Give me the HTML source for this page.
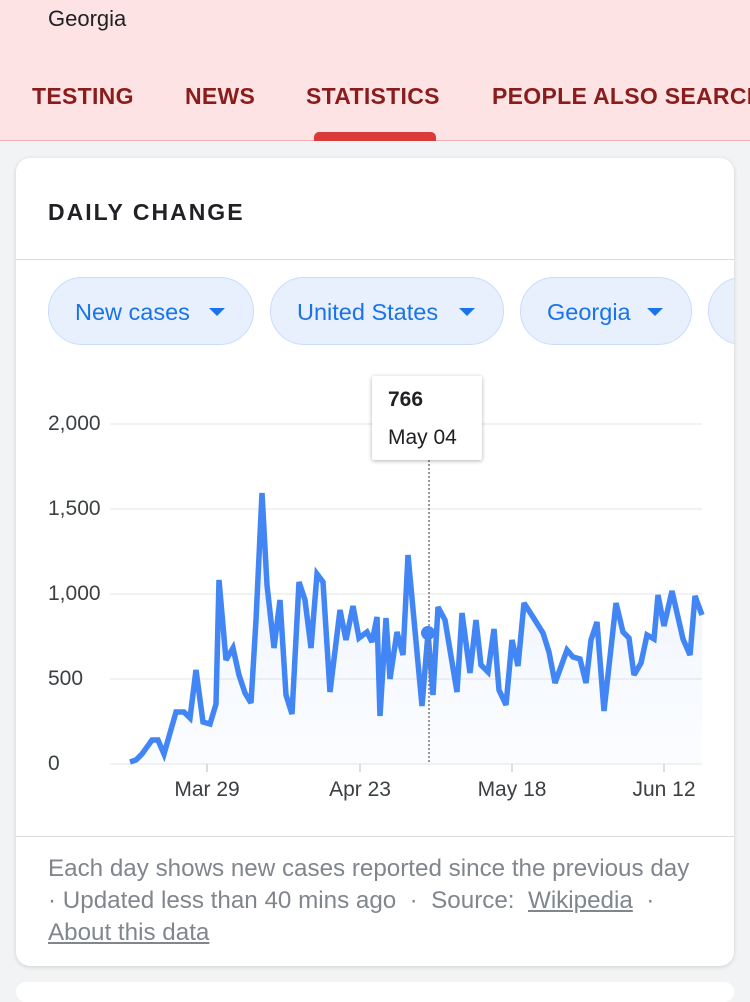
<!DOCTYPE html>
<html><head><meta charset="utf-8"><style>
body{margin:0;width:750px;height:990px;overflow:hidden;background:#f1f3f4;font-family:"Liberation Sans",Arial,sans-serif;position:relative}
.hdr{position:absolute;left:0;top:0;width:750px;height:140px;background:#fde3e3;border-bottom:1px solid #f0b0b0}
.t{position:absolute;font-size:23px;font-weight:bold;color:#8a1c1c;top:83px;letter-spacing:0.3px}
.card{position:absolute;left:16px;top:158px;width:718px;height:808px;background:#fff;border-radius:14px;box-shadow:0 1px 4px rgba(0,0,0,.15);overflow:hidden}
.chip{position:absolute;top:119px;height:68px;border:1.5px solid #c9dcfb;background:#e8f0fe;border-radius:36px;color:#1a73e8;font-size:23.5px;line-height:68px;box-sizing:border-box;padding-left:26px}
.chip:after{content:"";position:absolute;right:28px;top:30px;border-left:8px solid transparent;border-right:8px solid transparent;border-top:8px solid #1a73e8}
.yl{position:absolute;left:32px;font-size:21px;color:#3c4043}
.xl{position:absolute;top:620px;font-size:21px;color:#3c4043;transform:translateX(-50%)}
.ft{position:absolute;left:32px;top:695px;width:700px;font-size:24.2px;line-height:32px;color:#80868b;white-space:nowrap}
.ft u{text-decoration:underline}
</style></head><body>
<div class="hdr">
<div style="position:absolute;left:48px;top:6px;font-size:22px;color:#202124">Georgia</div>
<div class="t" style="left:32px">TESTING</div>
<div class="t" style="left:185px">NEWS</div>
<div class="t" style="left:306px">STATISTICS</div>
<div class="t" style="left:492px;white-space:nowrap">PEOPLE ALSO SEARCH</div>
<div style="position:absolute;left:314px;top:132px;width:122px;height:9px;background:#d93a3a;border-radius:5px 5px 0 0"></div>
</div>
<div class="card">
<div style="position:absolute;left:32px;top:41px;font-size:23px;font-weight:bold;letter-spacing:2px;color:#202124">DAILY CHANGE</div>
<div style="position:absolute;left:0;top:101px;width:718px;height:1px;background:#dadce0"></div>
<div class="chip" style="left:32px;width:206px">New cases</div>
<div class="chip" style="left:254px;width:234px">United States</div>
<div class="chip" style="left:504px;width:172px">Georgia</div>
<div class="chip" style="left:692px;width:80px"></div>
<div class="yl" style="top:254px">2,000</div>
<div class="yl" style="top:339px">1,500</div>
<div class="yl" style="top:424px">1,000</div>
<div class="yl" style="top:509px">500</div>
<div class="yl" style="top:594px">0</div>
<svg style="position:absolute;left:0;top:0" width="718" height="700" viewBox="16 158 718 700">
<defs><linearGradient id="g" x1="0" y1="0" x2="0" y2="1"><stop offset="0" stop-color="#4285f4" stop-opacity="0.1"/><stop offset="1" stop-color="#4285f4" stop-opacity="0.02"/></linearGradient></defs>
<g stroke="#eeeeee" stroke-width="1.5"><line x1="110" y1="424" x2="702" y2="424"/><line x1="110" y1="509" x2="702" y2="509"/><line x1="110" y1="594" x2="702" y2="594"/><line x1="110" y1="679" x2="702" y2="679"/><line x1="110" y1="764" x2="702" y2="764"/></g>
<g stroke="#dadce0" stroke-width="2"><line x1="207" y1="764" x2="207" y2="772"/><line x1="360" y1="764" x2="360" y2="772"/><line x1="512" y1="764" x2="512" y2="772"/><line x1="664" y1="764" x2="664" y2="772"/></g>
<polygon fill="url(#g)" points="130,764 130,762 136,760 142,754 152,740 158,740 164,754 176,712 184,712 190,718 196,670 203,722 210,724 216,704 219,580 226,660 233,648 239,675 245,693 251,703 256,620 262,493 267,585 274,648 280,600 286,695 292,714 299,582 305,600 311,648 317,574 323,582 330,692 340,610 346,640 353,606 359,638 367,632 372,642 377,617 380,716 386,618 390,679 397,632 403,655 408,555 422,706 428,633 433,695 438,607 445,620 457,692 462,613 470,673 476,620 481,665 488,672 494,629 499,690 506,705 512,640 518,666 524,603 533,617 543,633 549,652 555,683 567,650 573,657 580,659 586,683 591,640 597,622 604,711 616,603 623,632 629,638 634,675 641,663 647,635 654,639 658,595 664,626 672,591 683,639 690,655 695,596 702,615 702,764"/>
<polyline fill="none" stroke="#4285f4" stroke-width="5.5" stroke-linejoin="miter" stroke-miterlimit="3" points="130,762 136,760 142,754 152,740 158,740 164,754 176,712 184,712 190,718 196,670 203,722 210,724 216,704 219,580 226,660 233,648 239,675 245,693 251,703 256,620 262,493 267,585 274,648 280,600 286,695 292,714 299,582 305,600 311,648 317,574 323,582 330,692 340,610 346,640 353,606 359,638 367,632 372,642 377,617 380,716 386,618 390,679 397,632 403,655 408,555 422,706 428,633 433,695 438,607 445,620 457,692 462,613 470,673 476,620 481,665 488,672 494,629 499,690 506,705 512,640 518,666 524,603 533,617 543,633 549,652 555,683 567,650 573,657 580,659 586,683 591,640 597,622 604,711 616,603 623,632 629,638 634,675 641,663 647,635 654,639 658,595 664,626 672,591 683,639 690,655 695,596 702,615"/>
<line x1="429" y1="460" x2="429" y2="764" stroke="#777" stroke-width="1.5" stroke-dasharray="2,2"/>
<circle cx="428" cy="633" r="7" fill="#4285f4"/>
</svg>
<div style="position:absolute;left:356px;top:218px;width:110px;height:84px;background:#fff;box-shadow:0 1px 4px rgba(0,0,0,.3);border-radius:2px">
<div style="position:absolute;left:16px;top:12px;font-size:21px;font-weight:bold;color:#202124">766</div>
<div style="position:absolute;left:16px;top:50px;font-size:21px;color:#202124">May 04</div></div>
<div class="xl" style="left:191px">Mar 29</div>
<div class="xl" style="left:344px">Apr 23</div>
<div class="xl" style="left:496px">May 18</div>
<div class="xl" style="left:648px">Jun 12</div>
<div style="position:absolute;left:0;top:678px;width:718px;height:1px;background:#dadce0"></div>
<div class="ft">Each day shows new cases reported since the previous day<br>· Updated less than 40 mins ago &nbsp;·&nbsp; Source: &nbsp;<u>Wikipedia</u> &nbsp;·<br><u>About this data</u></div>
</div>
<div style="position:absolute;left:16px;top:982px;width:718px;height:20px;background:#fff;border-radius:14px"></div>
</body></html>
